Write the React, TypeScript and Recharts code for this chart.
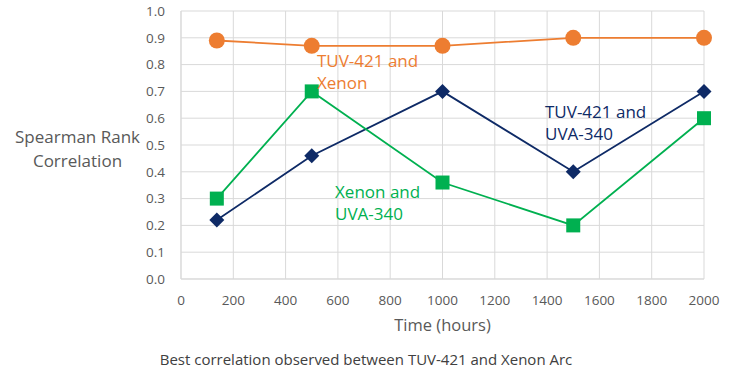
import {
  LineChart,
  Line,
  XAxis,
  YAxis,
  CartesianGrid,
  ReferenceDot,
} from "recharts";

const hours = [137, 500, 1000, 1500, 2000];
const tuvXenon = [0.89, 0.87, 0.87, 0.9, 0.9];
const tuvUva = [0.22, 0.46, 0.7, 0.4, 0.7];
const xenonUva = [0.3, 0.7, 0.36, 0.2, 0.6];

const xTicks = [0, 200, 400, 600, 800, 1000, 1200, 1400, 1600, 1800, 2000];
const yTicks = [0, 0.1, 0.2, 0.3, 0.4, 0.5, 0.6, 0.7, 0.8, 0.9, 1.0];

const notes = [
  { x: 520, y: 0.81, lines: ["TUV-421 and", "Xenon"], color: "#ED7D31" },
  { x: 1392, y: 0.62, lines: ["TUV-421 and", "UVA-340"], color: "#0E2A66" },
  { x: 589, y: 0.32, lines: ["Xenon and", "UVA-340"], color: "#00B050" },
];

const data = hours.map((h, i) => ({
  hours: h,
  tuvXenon: tuvXenon[i],
  tuvUva: tuvUva[i],
  xenonUva: xenonUva[i],
}));

const font = "'Open Sans', 'Noto Sans', sans-serif";

const circleDot = (p: any) => (
  <circle key={p.index} cx={p.cx} cy={p.cy} r={8} fill="#ED7D31" />
);
const squareDot = (p: any) => (
  <rect key={p.index} x={p.cx - 7} y={p.cy - 7} width={14} height={14} fill="#00B050" />
);
const diamondDot = (p: any) => (
  <path
    key={p.index}
    d={`M${p.cx},${p.cy - 7.5} L${p.cx + 7.5},${p.cy} L${p.cx},${p.cy + 7.5} L${p.cx - 7.5},${p.cy} Z`}
    fill="#0E2A66"
  />
);

const noteLabel = (lines: string[], color: string) => (props: any) => {
  const { viewBox } = props;
  return (
    <text x={viewBox.x} y={viewBox.y} fill={color} fontSize={17} fontFamily={font} dominantBaseline="middle">
      {lines.map((l, i) => (
        <tspan key={i} x={viewBox.x} dy={i === 0 ? 0 : 22}>
          {l}
        </tspan>
      ))}
    </text>
  );
};

export default function App() {
  return (
    <div style={{ position: "absolute", left: 0, top: 0, background: "#fff" }}>
      <LineChart
        width={750}
        height={381}
        data={data}
        margin={{ top: 11, right: 46, bottom: 72, left: 121 }}
      >
        <CartesianGrid stroke="#D9D9D9" />
        <XAxis
          dataKey="hours"
          type="number"
          domain={[0, 2000]}
          ticks={xTicks}
          stroke="#D9D9D9"
          tickLine={false}
          tick={{ fill: "#595959", fontSize: 13.5, fontFamily: font }}
          tickMargin={10}
          height={30}
        />
        <YAxis
          type="number"
          domain={[0, 1]}
          ticks={yTicks}
          tickFormatter={(v) => v.toFixed(1)}
          stroke="#D9D9D9"
          tickLine={false}
          tick={{ fill: "#595959", fontSize: 13.5, fontFamily: font }}
          tickMargin={10}
          width={60}
        />
        <Line
          dataKey="tuvXenon"
          stroke="#ED7D31"
          strokeWidth={1.8}
          dot={circleDot}
          activeDot={false}
          isAnimationActive={false}
        />
        <Line
          dataKey="tuvUva"
          stroke="#0E2A66"
          strokeWidth={1.8}
          dot={diamondDot}
          activeDot={false}
          isAnimationActive={false}
        />
        <Line
          dataKey="xenonUva"
          stroke="#00B050"
          strokeWidth={1.8}
          dot={squareDot}
          activeDot={false}
          isAnimationActive={false}
        />
        {notes.map((n, i) => (
          <ReferenceDot
            key={i}
            x={n.x}
            y={n.y}
            r={0}
            fill="none"
            stroke="none"
            label={noteLabel(n.lines, n.color)}
          />
        ))}
      </LineChart>
      <div
        style={{
          position: "absolute",
          left: 0,
          top: 125,
          width: 155,
          textAlign: "center",
          fontFamily: font,
          fontSize: 17,
          lineHeight: "24px",
          color: "#595959",
        }}
      >
        Spearman Rank
        <br />
        Correlation
      </div>
      <div
        style={{
          position: "absolute",
          left: 181,
          top: 313,
          width: 523,
          textAlign: "center",
          fontFamily: font,
          fontSize: 16.5,
          color: "#595959",
        }}
      >
        Time (hours)
      </div>
      <div
        style={{
          position: "absolute",
          left: 0,
          top: 349,
          width: 732,
          textAlign: "center",
          fontFamily: font,
          fontSize: 15,
          color: "#404040",
        }}
      >
        Best correlation observed between TUV-421 and Xenon Arc
      </div>
    </div>
  );
}
